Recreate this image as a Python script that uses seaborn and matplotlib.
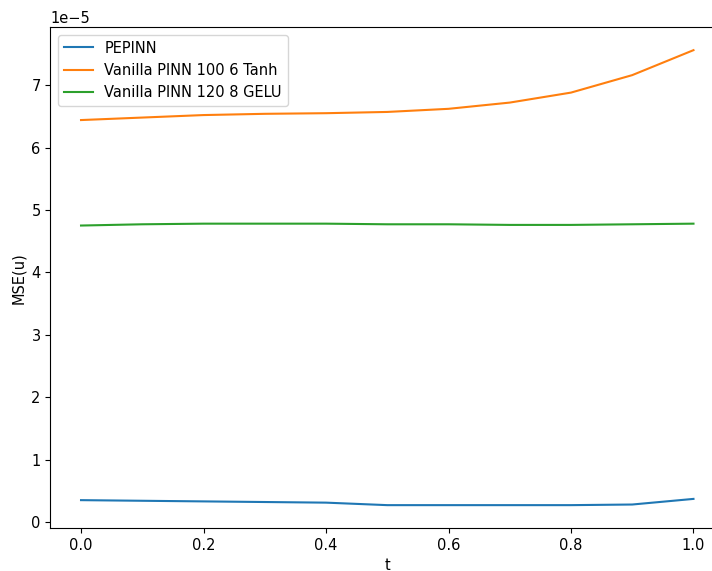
import matplotlib
matplotlib.use("Agg")
import matplotlib.pyplot as plt
import seaborn as sns
import pandas as pd
import numpy as np

t = [0.0, 0.1, 0.2, 0.3, 0.4, 0.5, 0.6, 0.7, 0.8, 0.9, 1.0]
pepinn = [0.35, 0.34, 0.33, 0.32, 0.31, 0.27, 0.27, 0.27, 0.27, 0.28, 0.37]
tanh = [6.44, 6.48, 6.52, 6.54, 6.55, 6.57, 6.62, 6.72, 6.88, 7.16, 7.56]
gelu = [4.75, 4.77, 4.78, 4.78, 4.78, 4.77, 4.77, 4.76, 4.76, 4.77, 4.78]
names = ["PEPINN", "Vanilla PINN 100 6 Tanh", "Vanilla PINN 120 8 GELU"]

plt.rcParams["font.size"] = 10.5

rows = []
for name, vals in zip(names, [pepinn, tanh, gelu]):
    for ti, v in zip(t, vals):
        rows.append({"t": ti, "MSE(u)": v * 1e-5, "model": name})
df = pd.DataFrame(rows)

fig, ax = plt.subplots(figsize=(7.12, 5.71), dpi=100)
sns.lineplot(data=df, x="t", y="MSE(u)", hue="model", hue_order=names,
             palette=["#1f77b4", "#ff7f0e", "#2ca02c"], ax=ax)
ax.legend(loc="upper left", title=None)
fig.subplots_adjust(left=0.0708, right=1.017, top=0.952, bottom=0.0755)
fig.savefig("out.png", dpi=100)
